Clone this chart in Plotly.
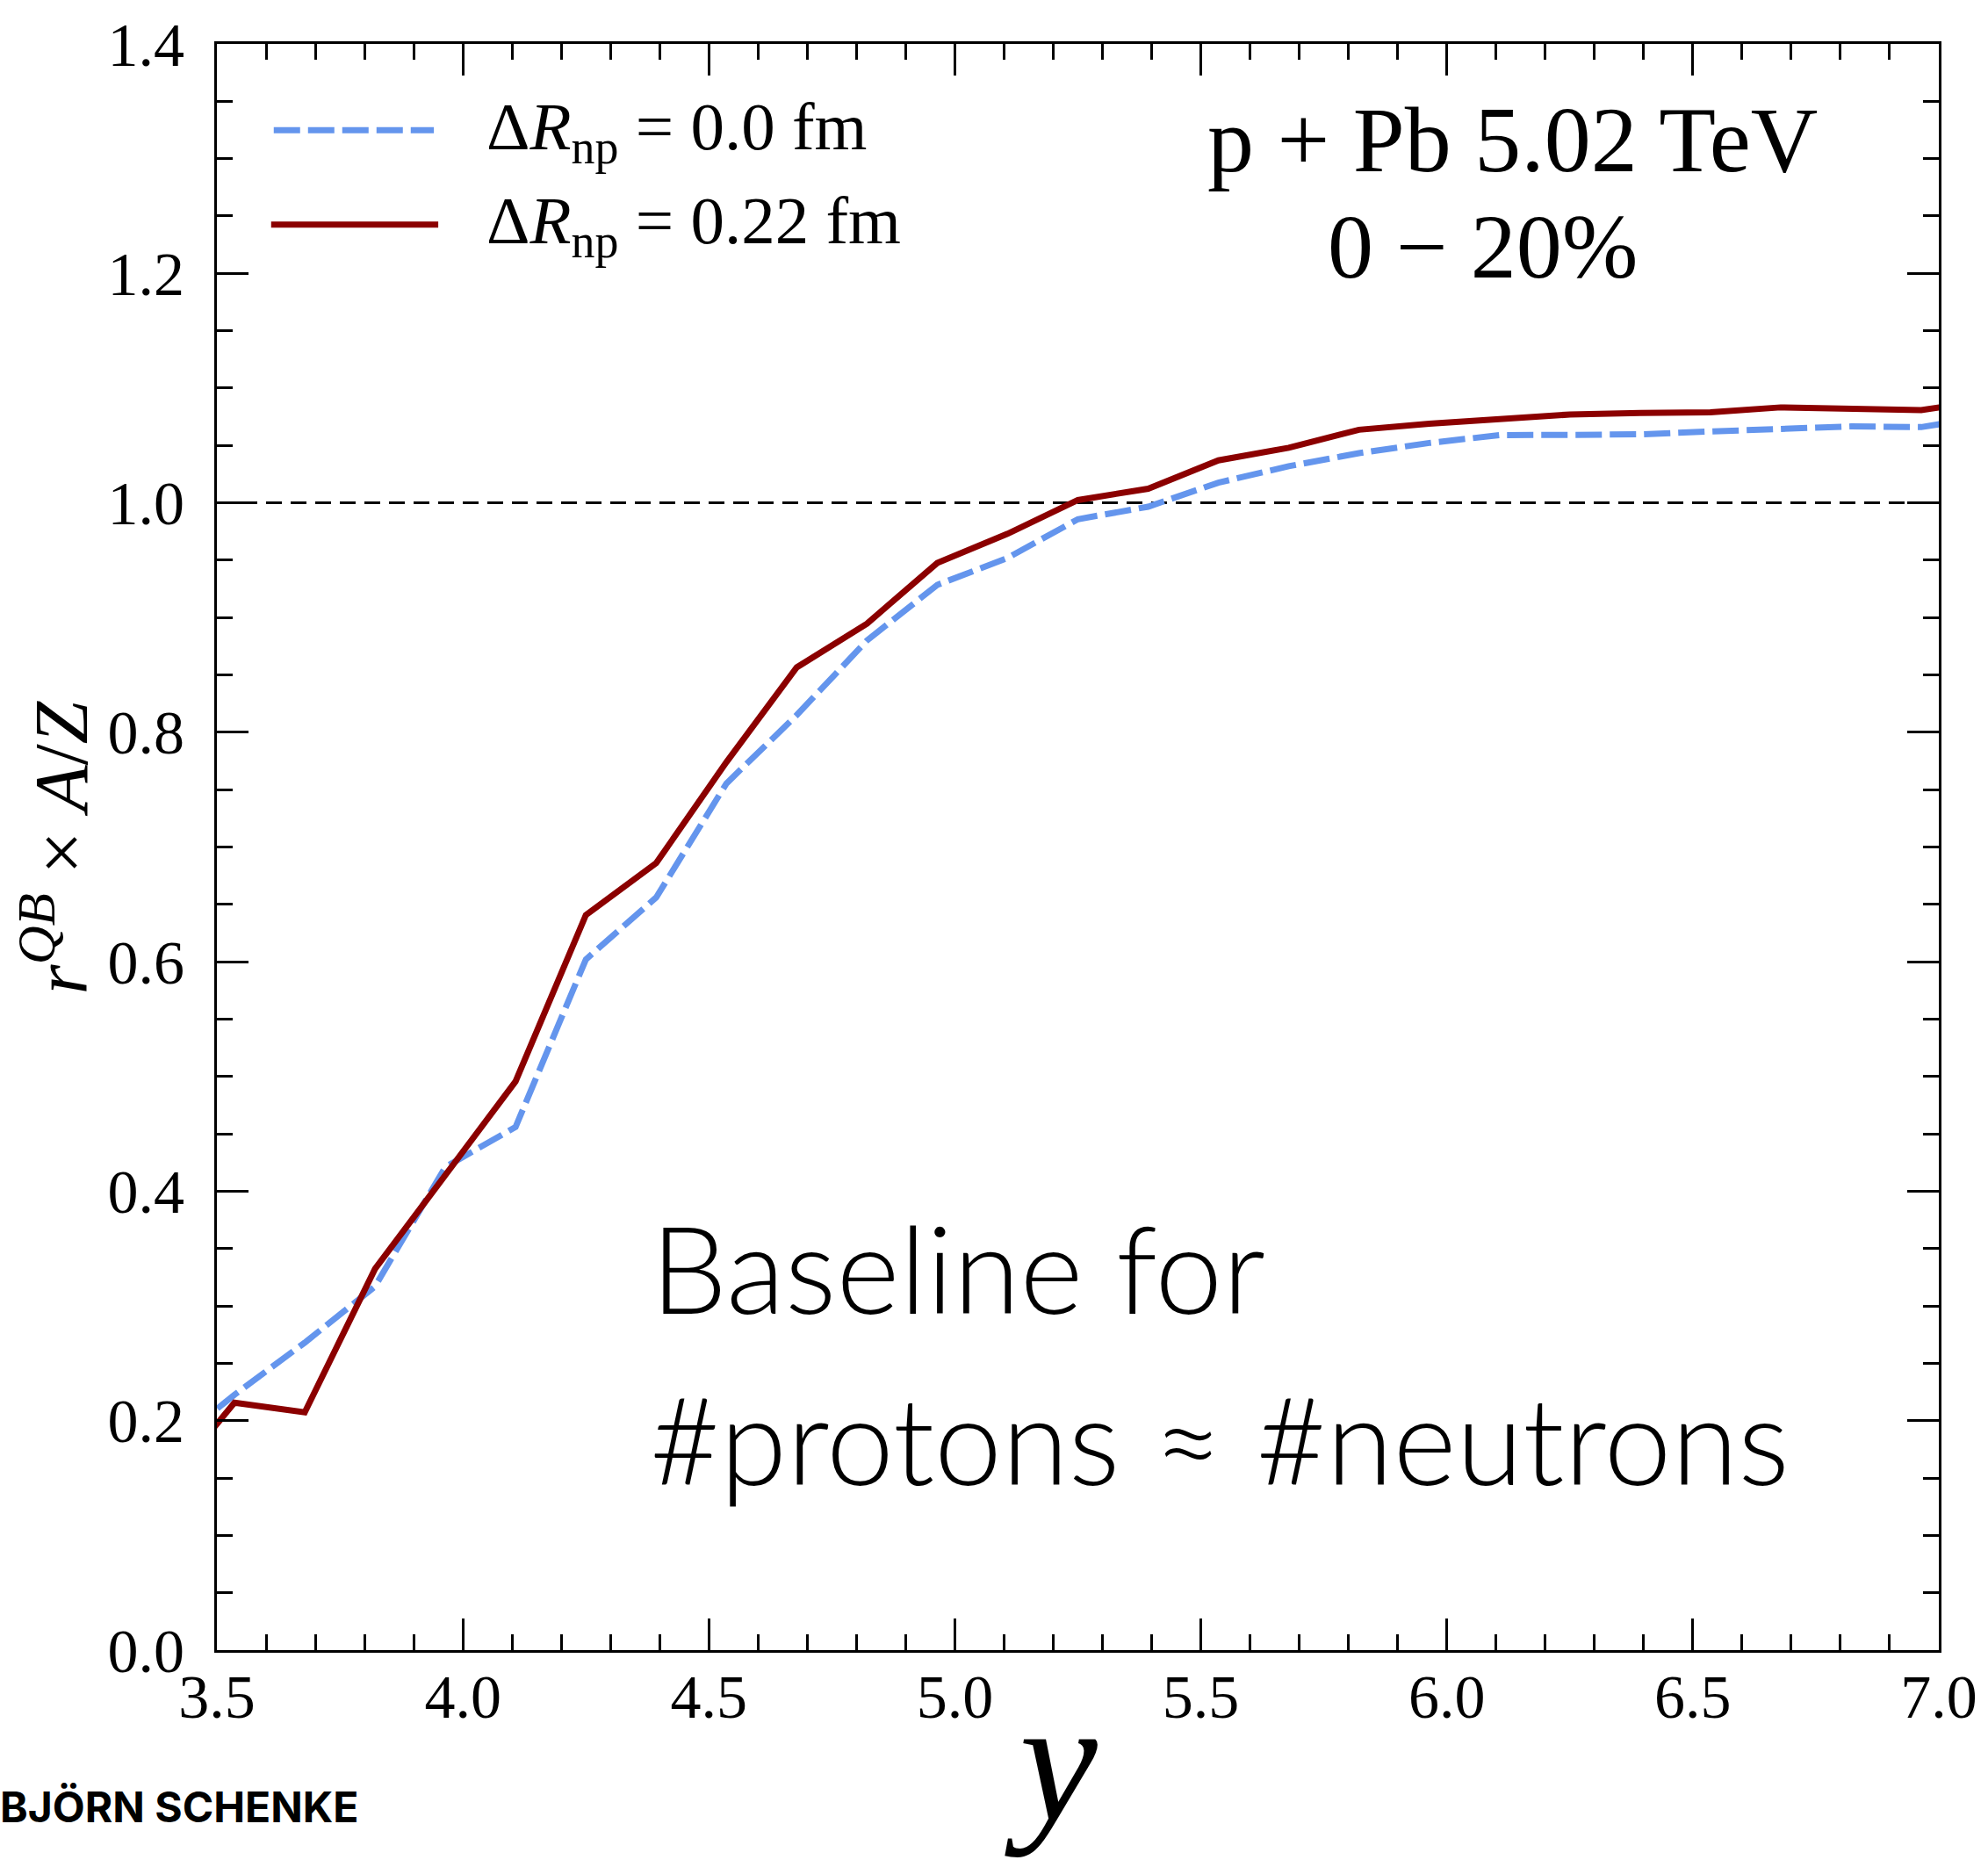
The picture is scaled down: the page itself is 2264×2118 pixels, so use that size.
import plotly.graph_objects as go

# ---- data ----
rapidity = [3.3929, 3.5357, 3.6786, 3.8214, 3.9643, 4.1071, 4.2500, 4.3929, 4.5357,
            4.6786, 4.8214, 4.9643, 5.1071, 5.2500, 5.3929, 5.5357, 5.6786, 5.8214,
            5.9643, 6.1071, 6.2500, 6.3929, 6.5357, 6.6786, 6.8214, 6.9643, 7.1071]
ratio_dR000 = [0.173, 0.2226, 0.268, 0.317, 0.421, 0.456, 0.602, 0.656, 0.7554,
               0.815, 0.880, 0.9285, 0.952, 0.9857, 0.9966, 1.0176, 1.0319, 1.0433,
               1.0522, 1.059, 1.0592, 1.0597, 1.0622, 1.064, 1.0666, 1.066, 1.076]
ratio_dR022 = [0.141, 0.2157, 0.2073, 0.3323, 0.414, 0.4957, 0.6407, 0.686, 0.774,
               0.8566, 0.8947, 0.9476, 0.973, 1.0024, 1.0123, 1.037, 1.048, 1.0637,
               1.069, 1.0726, 1.077, 1.0783, 1.0789, 1.0832, 1.082, 1.0808, 1.090]
series_names = ["Δ<i>R</i><sub>np</sub> = 0.0 fm", "Δ<i>R</i><sub>np</sub> = 0.22 fm"]
x_ticks = [3.5, 4.0, 4.5, 5.0, 5.5, 6.0, 6.5, 7.0]
y_ticks = [0.0, 0.2, 0.4, 0.6, 0.8, 1.0, 1.2, 1.4]

W, H = 2264, 2118
L, R, T, B = 247, 2215, 38, 1879
PW, PH = R - L, B - T

def px(X):
    return (X - L) / PW

def py(Y):
    return (B - Y) / PH

SERIF = "Liberation Serif"
BLUE = "#6495ED"
RED = "#8B0000"

fig = go.Figure()
fig.add_trace(go.Scatter(x=rapidity, y=ratio_dR000, mode="lines", name=series_names[0],
                         line=dict(color=BLUE, width=7, dash="30px,9px"), showlegend=False))
fig.add_trace(go.Scatter(x=rapidity, y=ratio_dR022, mode="lines", name=series_names[1],
                         line=dict(color=RED, width=7), showlegend=False))

axis_common = dict(showline=True, linewidth=3, linecolor="black", mirror="allticks",
                   ticks="inside", ticklen=36, tickwidth=3, tickcolor="black",
                   showgrid=False, zeroline=False,
                   tickfont=dict(family=SERIF, size=70, color="black"),
                   tickformat=".1f")

fig.update_xaxes(range=[3.5, 7.0], tickvals=x_ticks, ticklabelstandoff=-10,
                 minor=dict(dtick=0.1, ticks="inside", ticklen=18, tickwidth=2.5, tickcolor="black"),
                 **axis_common)
fig.update_yaxes(range=[0.0, 1.4], tickvals=y_ticks, ticklabelstandoff=20,
                 minor=dict(dtick=0.05, ticks="inside", ticklen=18, tickwidth=2.5, tickcolor="black"),
                 **axis_common)

shapes = [
    dict(type="line", xref="paper", yref="y", x0=0, x1=1, y0=1.0, y1=1.0,
         line=dict(color="black", width=3, dash="18px,10px"), layer="below"),
    dict(type="line", xref="paper", yref="paper", x0=px(312), x1=px(495), y0=py(137), y1=py(137),
         line=dict(color=BLUE, width=7, dash="30px,9px")),
    dict(type="line", xref="paper", yref="paper", x0=px(309), x1=px(500), y0=py(245), y1=py(245),
         line=dict(color=RED, width=7)),
]

annotations = [
    dict(text=series_names[0], x=px(553), y=py(138), xref="paper", yref="paper",
         xanchor="left", yanchor="middle", showarrow=False,
         font=dict(family=SERIF, size=77, color="black")),
    dict(text=series_names[1], x=px(553), y=py(246), xref="paper", yref="paper",
         xanchor="left", yanchor="middle", showarrow=False,
         font=dict(family=SERIF, size=77, color="black")),
    dict(text="p + Pb 5.02 TeV", x=px(1728), y=py(148), xref="paper", yref="paper",
         xanchor="center", yanchor="middle", showarrow=False,
         font=dict(family=SERIF, size=106, color="black")),
    dict(text="0 − 20%", x=px(1694), y=py(270), xref="paper", yref="paper",
         xanchor="center", yanchor="middle", showarrow=False,
         font=dict(family=SERIF, size=104, color="black")),
    dict(text="Baseline for", x=px(741), y=py(1440), xref="paper", yref="paper",
         xanchor="left", yanchor="middle", showarrow=False,
         font=dict(family="Lato", size=138, color="black", weight=300)),
    dict(text="#protons ≈ #neutrons", x=px(740), y=py(1636), xref="paper", yref="paper",
         xanchor="left", yanchor="middle", showarrow=False,
         font=dict(family="Lato", size=138, color="black", weight=300)),
    dict(text="<i>r</i><sup><i>QB</i></sup> × <i>A</i>/<i>Z</i>", x=px(62), y=0.5,
         xref="paper", yref="paper", xanchor="center", yanchor="middle", textangle=-90,
         showarrow=False, font=dict(family=SERIF, size=87, color="black")),
    dict(text="<i>y</i>", x=px(1200), y=py(2005), xref="paper", yref="paper",
         xanchor="center", yanchor="middle", showarrow=False,
         font=dict(family=SERIF, size=200, color="black")),
    dict(text="<b>BJÖRN SCHENKE</b>", x=px(-3), y=py(2059), xref="paper", yref="paper",
         xanchor="left", yanchor="middle", showarrow=False,
         font=dict(family="Inter", size=48, color="black")),
]

fig.update_layout(width=W, height=H, margin=dict(l=L, r=W - R, t=T, b=H - B),
                  paper_bgcolor="white", plot_bgcolor="white",
                  shapes=shapes, annotations=annotations, showlegend=False)

fig.write_html("out.html")
